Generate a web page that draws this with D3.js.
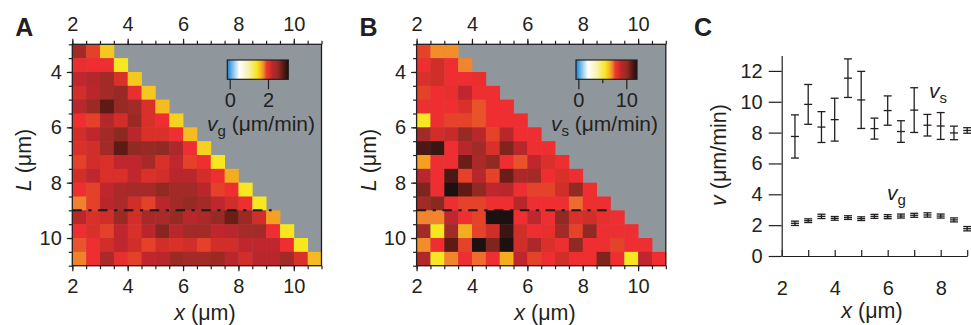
<!DOCTYPE html>
<html>
<head>
<meta charset="utf-8">
<script src="https://cdn.jsdelivr.net/npm/d3@7"></script>
<style>
body { margin: 0; background: #fff; }
svg text { font-family: "Liberation Sans", Arial, Helvetica, sans-serif; fill: #231f20; }
</style>
</head>
<body>
<script>
// bins of the two maps (cell centres)
const xBins = [2.25, 2.75, 3.25, 3.75, 4.25, 4.75, 5.25, 5.75, 6.25, 6.75, 7.25, 7.75, 8.25, 8.75, 9.25, 9.75, 10.25, 10.75];
const lBins = [3.25, 3.75, 4.25, 4.75, 5.25, 5.75, 6.25, 6.75, 7.25, 7.75, 8.25, 8.75, 9.25, 9.75, 10.25, 10.75];

// v_g map (um/min), one row per L bin
const vgGrid = [
  [2.42, 1.93, 1.55],
  [2.03, 2.0, 2.0, 1.4],
  [2.22, 2.3, 2.42, 2.08, 1.55],
  [2.12, 2.27, 2.42, 2.5, 2.03, 1.55],
  [2.27, 2.47, 2.78, 2.5, 2.42, 2.08, 1.6],
  [2.0, 1.93, 2.3, 2.12, 2.47, 2.08, 2.0, 1.5],
  [2.12, 2.22, 2.42, 2.57, 2.27, 2.08, 2.08, 2.0, 1.6],
  [2.08, 2.12, 2.42, 2.78, 2.55, 2.5, 2.55, 2.36, 2.0, 1.5],
  [1.93, 2.12, 2.08, 2.22, 2.22, 2.4, 2.08, 2.22, 1.93, 2.0, 1.4],
  [2.12, 2.22, 2.08, 2.08, 2.22, 2.08, 2.12, 2.27, 2.27, 2.12, 2.0, 1.65],
  [2.0, 1.93, 2.22, 2.36, 2.4, 2.4, 2.55, 2.42, 2.42, 2.27, 1.93, 2.0, 1.4],
  [1.78, 1.93, 2.27, 2.36, 2.12, 1.93, 2.27, 2.42, 2.5, 2.42, 2.22, 2.12, 2.0, 1.4],
  [2.27, 2.08, 2.12, 2.47, 2.12, 2.4, 2.36, 2.5, 2.27, 2.36, 2.5, 2.72, 2.47, 2.12, 1.7],
  [2.0, 2.08, 1.93, 2.22, 2.08, 2.27, 2.6, 2.27, 2.42, 2.42, 2.22, 2.27, 2.4, 2.42, 2.0, 1.4],
  [1.87, 2.0, 2.12, 2.22, 2.12, 1.93, 2.12, 2.08, 2.12, 1.93, 2.12, 2.12, 2.22, 2.22, 2.22, 2.0, 1.4],
  [1.78, 2.0, 2.36, 2.03, 1.93, 2.22, 2.27, 2.47, 2.42, 2.42, 2.47, 2.27, 2.12, 2.27, 2.27, 2.42, 2.08, 1.6]
];

// v_s map (um/min)
const vsGrid = [
  [7.7, 7.0, 7.0],
  [8.0, 8.5, 8.0, 7.1],
  [8.3, 8.5, 8.0, 8.0, 8.1],
  [7.7, 8.0, 8.1, 8.9, 8.0, 8.0],
  [8.0, 8.0, 8.0, 8.3, 7.5, 8.0, 8.0],
  [5.6, 8.0, 7.7, 7.7, 7.5, 8.0, 8.0, 8.0],
  [9.7, 8.5, 8.7, 10.0, 9.1, 7.7, 9.1, 8.0, 8.0],
  [11.4, 11.7, 8.0, 9.1, 9.7, 8.3, 10.5, 9.1, 8.0, 8.0],
  [6.8, 8.0, 8.0, 10.9, 9.45, 10.2, 8.0, 7.5, 8.9, 8.3, 8.0],
  [9.1, 8.0, 11.4, 7.7, 9.1, 7.7, 10.9, 9.45, 9.7, 8.0, 8.3, 8.0],
  [10.5, 8.0, 12.2, 11.1, 10.2, 8.9, 9.1, 8.0, 7.7, 7.7, 8.5, 10.2, 8.0],
  [9.7, 10.3, 8.0, 7.7, 7.7, 8.0, 8.0, 9.1, 8.0, 8.0, 8.0, 7.3, 8.0, 8.0],
  [7.1, 7.1, 8.9, 8.0, 7.7, 12.2, 12.2, 8.0, 8.9, 8.0, 10.2, 8.3, 8.5, 8.1, 8.0],
  [9.7, 5.6, 9.7, 6.6, 7.7, 8.5, 11.7, 8.5, 8.0, 8.1, 9.7, 7.7, 10.2, 8.0, 8.0, 8.0],
  [7.0, 8.0, 11.1, 7.7, 12.2, 10.5, 12.2, 8.5, 9.45, 8.3, 8.0, 10.2, 8.0, 8.0, 7.7, 8.0, 8.0],
  [9.3, 5.6, 7.1, 8.0, 7.3, 8.0, 6.6, 8.9, 7.7, 8.0, 8.5, 8.0, 8.0, 10.5, 8.0, 5.6, 8.9, 8.0]
];

// panel C
const cx = [2.5, 3, 3.5, 4, 4.5, 5, 5.5, 6, 6.5, 7, 7.5, 8, 8.5, 9];
const vsMean = [7.75, 9.83, 8.36, 8.84, 11.53, 10.12, 8.26, 9.43, 8.07, 9.46, 8.48, 8.43, 7.98, 8.14];
const vsErr = [1.4, 1.29, 1.0, 1.39, 1.25, 1.85, 0.68, 0.95, 0.7, 1.45, 0.7, 0.87, 0.44, 0.18];
const vgMean = [2.12, 2.29, 2.57, 2.44, 2.49, 2.42, 2.57, 2.55, 2.59, 2.64, 2.66, 2.59, 2.34, 1.77];
const vgErr = [0.14, 0.12, 0.14, 0.12, 0.12, 0.12, 0.13, 0.13, 0.13, 0.13, 0.14, 0.13, 0.13, 0.14];

// tick labels
const xTicksHeat = [2, 4, 6, 8, 10];
const lTicks = [4, 6, 8, 10];
const vTicks = [0, 2, 4, 6, 8, 10, 12];
const cxTicks = [2, 4, 6, 8];

// colour map (in v_g units, v_s uses x4)
const cmapStops = [-0.125, 0.2, 0.5, 1.0, 1.4, 1.55, 1.7, 1.8, 1.88, 1.95, 2.0, 2.1, 2.22, 2.4, 2.55, 2.78, 3.06];
const cmapColors = ['#1a7fd0', '#8cc8ee', '#ffffff', '#f8f0a8', '#f8e620', '#f5c820', '#f5a020', '#f07a30',
  '#e8502a', '#e43a2a', '#ee2e30', '#d43028', '#c0262e', '#a52a28', '#902a22', '#5e1a14', '#1a1010'];
const cmap = d3.scaleLinear().domain(cmapStops).range(cmapColors).clamp(true);

const ink = '#231f20';
const tickFont = 20;
const titleFont = 21.5;
const svg = d3.select('body').append('svg')
  .attr('width', 971).attr('height', 325);

const defs = svg.append('defs');
const grad = defs.append('linearGradient').attr('id', 'cbar');
cmapStops.forEach((s, i) => {
  grad.append('stop')
    .attr('offset', (s - cmapStops[0]) / (cmapStops[cmapStops.length - 1] - cmapStops[0]))
    .attr('stop-color', cmapColors[i]);
});

function styleAxis(g) {
  g.attr('font-size', tickFont).attr('color', ink);
  g.select('.domain').remove();
  g.selectAll('line').attr('stroke-width', 1.2);
}

function heatPanel(opt) {
  const xs = d3.scaleLinear().domain([2, 11]).range([opt.left, opt.left + 249.2]);
  const ys = d3.scaleLinear().domain([3, 11]).range([44.3, 265.7]);
  const g = svg.append('g');

  g.append('rect')
    .attr('x', xs(2)).attr('y', ys(3))
    .attr('width', xs(11) - xs(2)).attr('height', ys(11) - ys(3))
    .attr('fill', '#8f979c');

  const cells = [];
  opt.grid.forEach((row, i) => row.forEach((v, j) => cells.push({ x: xBins[j], L: lBins[i], v: v })));

  g.selectAll('rect.cell')
    .data(cells)
    .enter()
    .append('rect')
    .attr('class', 'cell')
    .attr('x', d => xs(d.x - 0.25))
    .attr('y', d => ys(d.L - 0.25))
    .attr('width', xs(2.5) - xs(2) + 0.4)
    .attr('height', ys(3.5) - ys(3) + 0.4)
    .attr('fill', d => cmap(d.v / opt.k));

  // dash-dot cut at L = 9
  g.append('line')
    .attr('x1', xs(2)).attr('x2', xs(opt.cutEnd))
    .attr('y1', ys(9)).attr('y2', ys(9))
    .attr('stroke', '#1a1a1a').attr('stroke-width', 2)
    .attr('stroke-dasharray', '9.5,6.5,3.3,6.5');

  // frame
  g.append('rect')
    .attr('x', xs(2)).attr('y', ys(3))
    .attr('width', xs(11) - xs(2)).attr('height', ys(11) - ys(3))
    .attr('fill', 'none').attr('stroke', ink).attr('stroke-width', 1.3);

  const minorX = d3.range(2, 11.01, 0.5);
  const minorL = d3.range(3, 11.01, 0.5);

  g.append('g').attr('transform', `translate(0,${ys(3)})`)
    .call(d3.axisTop(xs).tickValues(minorX).tickSize(3.5).tickFormat(''))
    .call(styleAxis);
  g.append('g').attr('transform', `translate(0,${ys(3)})`)
    .call(d3.axisTop(xs).tickValues(xTicksHeat).tickSize(5.5).tickPadding(8))
    .call(styleAxis);
  g.append('g').attr('transform', `translate(0,${ys(11)})`)
    .call(d3.axisBottom(xs).tickValues(minorX).tickSize(3.5).tickFormat(''))
    .call(styleAxis);
  g.append('g').attr('transform', `translate(0,${ys(11)})`)
    .call(d3.axisBottom(xs).tickValues(xTicksHeat).tickSize(5.5).tickPadding(8))
    .call(styleAxis);
  g.append('g').attr('transform', `translate(${xs(2)},0)`)
    .call(d3.axisLeft(ys).tickValues(minorL).tickSize(3.5).tickFormat(''))
    .call(styleAxis);
  g.append('g').attr('transform', `translate(${xs(2)},0)`)
    .call(d3.axisLeft(ys).tickValues(lTicks).tickSize(5.5).tickPadding(5))
    .call(styleAxis);

  // colour bar
  const bs = d3.scaleLinear().domain([-0.125 * opt.k, 3.06 * opt.k]).range([opt.barX, opt.barX + 61]);
  g.append('rect')
    .attr('x', bs.range()[0]).attr('y', 60)
    .attr('width', 61).attr('height', 19.3)
    .attr('fill', 'url(#cbar)').attr('stroke', ink).attr('stroke-width', 1.2);
  g.append('g').attr('transform', 'translate(0,79.3)')
    .call(d3.axisBottom(bs).tickValues(opt.barTicks).tickSize(10).tickPadding(4).tickFormat(d3.format('d')))
    .call(styleAxis);
  if (opt.barMinor) {
    g.append('g').attr('transform', 'translate(0,79.3)')
      .call(d3.axisBottom(bs).tickValues(opt.barMinor).tickSize(4).tickFormat(''))
      .call(styleAxis);
  }
  const lab = g.append('text')
    .attr('x', opt.labEnd).attr('y', 131)
    .attr('text-anchor', 'end').attr('font-size', 21);
  lab.append('tspan').attr('font-style', 'italic').text('v');
  lab.append('tspan').attr('font-size', 15).attr('dy', 5).text(opt.sub);
  lab.append('tspan').attr('dy', -5).text(' (μm/min)');

  // axis titles
  const xt = g.append('text')
    .attr('x', opt.xLab).attr('y', 320)
    .attr('text-anchor', 'middle').attr('font-size', titleFont);
  xt.append('tspan').attr('font-style', 'italic').text('x');
  xt.append('tspan').text(' (μm)');

  const yt = g.append('text')
    .attr('transform', `translate(${opt.left - 41},160) rotate(-90)`)
    .attr('text-anchor', 'middle').attr('font-size', titleFont);
  yt.append('tspan').attr('font-style', 'italic').text('L');
  yt.append('tspan').text(' (μm)');

  g.append('text')
    .attr('x', opt.left - 57).attr('y', 36)
    .attr('font-size', 25).attr('font-weight', 'bold')
    .text(opt.letter);
}

heatPanel({ left: 72.3, grid: vgGrid, k: 1, cutEnd: 9.2, barX: 227.3, barTicks: [0, 2],
  labEnd: 315, sub: 'g', xLab: 205, letter: 'A' });
heatPanel({ left: 416.6, grid: vsGrid, k: 4, cutEnd: 9.1, barX: 576, barTicks: [0, 10], barMinor: [5],
  labEnd: 658, sub: 's', xLab: 545, letter: 'B' });

// panel C
const xC = d3.scaleLinear().domain([2, 9]).range([781.7, 967.2]);
const yC = d3.scaleLinear().domain([0, 13]).range([256, 55.5]);
const gc = svg.append('g');

gc.append('g').attr('transform', `translate(${xC(2)},0)`)
  .call(d3.axisLeft(yC).tickValues(vTicks).tickSize(13).tickPadding(6).tickSizeOuter(0))
  .call(a => {
    a.attr('font-size', tickFont).attr('color', ink);
    a.selectAll('line, path').attr('stroke-width', 1.2);
  });
gc.append('g').attr('transform', `translate(0,${yC(0)})`)
  .call(d3.axisBottom(xC).tickValues(d3.range(2, 9.01, 1)).tickSize(-6).tickPadding(25).tickSizeOuter(0)
    .tickFormat(d => cxTicks.includes(d) ? d : ''))
  .call(a => {
    a.attr('font-size', tickFont).attr('color', ink);
    a.selectAll('line, path').attr('stroke-width', 1.2);
  });

function errorBars(mean, err) {
  const pts = cx.map((x, i) => ({ x: x, m: mean[i], e: err[i] }));
  const eb = gc.append('g').attr('stroke', ink).attr('stroke-width', 1.3);
  const sel = eb.selectAll('g').data(pts).enter().append('g');
  sel.append('line')
    .attr('x1', d => xC(d.x)).attr('x2', d => xC(d.x))
    .attr('y1', d => yC(d.m - d.e)).attr('y2', d => yC(d.m + d.e));
  [d => d.m - d.e, d => d.m, d => d.m + d.e].forEach(f => {
    sel.append('line')
      .attr('x1', d => xC(d.x) - 4).attr('x2', d => xC(d.x) + 4)
      .attr('y1', d => yC(f(d))).attr('y2', d => yC(f(d)));
  });
}
errorBars(vsMean, vsErr);
errorBars(vgMean, vgErr);

function vLabel(x, y, sub) {
  const t = gc.append('text').attr('x', x).attr('y', y).attr('font-size', 21);
  t.append('tspan').attr('font-style', 'italic').text('v');
  t.append('tspan').attr('font-size', 15).attr('dy', 5).text(sub);
}
vLabel(929, 98, 's');
vLabel(887, 200, 'g');

const cxt = gc.append('text')
  .attr('x', 872).attr('y', 318)
  .attr('text-anchor', 'middle').attr('font-size', titleFont);
cxt.append('tspan').attr('font-style', 'italic').text('x');
cxt.append('tspan').text(' (μm)');

const cyt = gc.append('text')
  .attr('transform', 'translate(726,155) rotate(-90)')
  .attr('text-anchor', 'middle').attr('font-size', titleFont);
cyt.append('tspan').attr('font-style', 'italic').text('v');
cyt.append('tspan').text(' (μm/min)');

gc.append('text')
  .attr('x', 694).attr('y', 36)
  .attr('font-size', 25).attr('font-weight', 'bold')
  .text('C');
</script>
</body>
</html>
